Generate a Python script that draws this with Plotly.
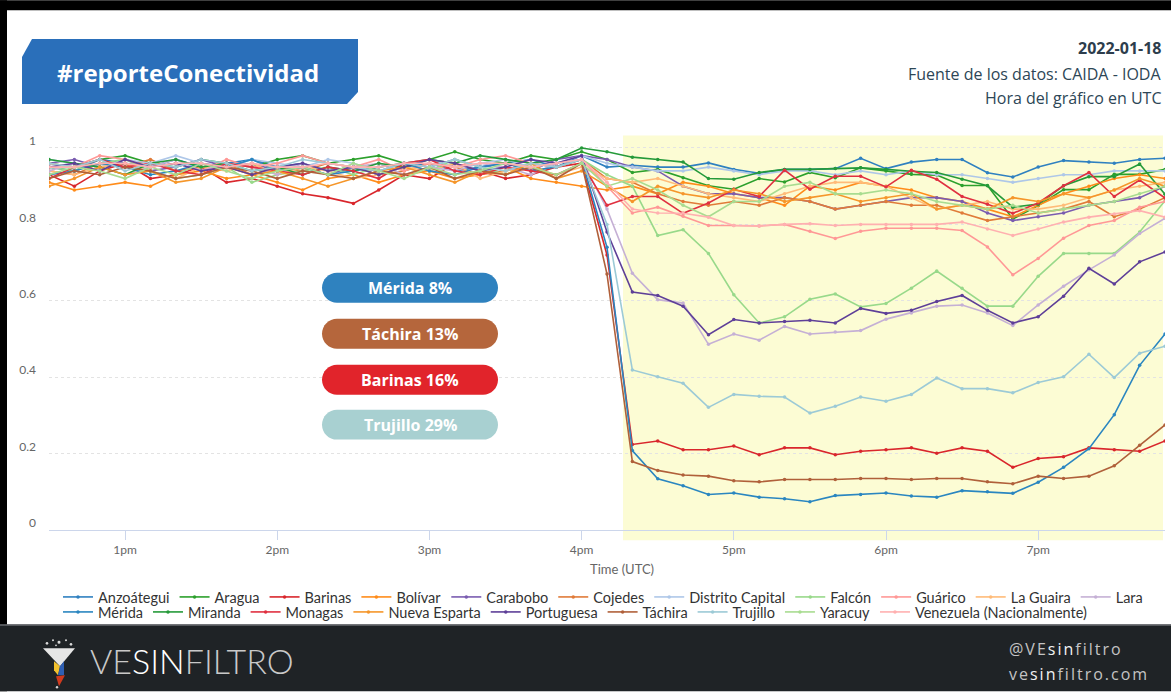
import plotly.graph_objects as go
import pandas as pd

# ---------------- data ----------------
times = pd.date_range("2022-01-18 12:30", "2022-01-18 19:50", freq="10min")

anzoategui = [0.95,0.94,0.97,0.96,0.95,0.97,0.95,0.96,0.97,0.95,0.96,0.94,0.95,0.93,0.95,0.96,0.94,0.95,0.96,0.97,0.95,0.98,
              0.95,
              0.955,0.95,0.95,0.961,0.944,0.934,0.944,0.944,0.946,0.973,0.946,0.963,0.97,0.97,0.935,0.924,0.95,0.967,0.963,0.96,0.97,0.973]
aragua = [0.96,0.95,0.97,0.98,0.96,0.95,0.97,0.96,0.95,0.97,0.98,0.96,0.97,0.98,0.96,0.97,0.99,0.97,0.96,0.98,0.97,0.99,
          0.97,
          0.936,0.944,0.922,0.901,0.892,0.920,0.911,0.936,0.922,0.948,0.940,0.931,0.929,0.902,0.902,0.814,0.849,0.891,0.891,0.931,0.931,0.944]
barinas = [0.93,0.90,0.94,0.96,0.92,0.93,0.95,0.91,0.92,0.90,0.88,0.87,0.855,0.89,0.93,0.92,0.96,0.94,0.92,0.93,0.95,0.96,
           0.72,
           0.224,0.233,0.210,0.210,0.220,0.197,0.215,0.215,0.197,0.206,0.210,0.215,0.201,0.215,0.206,0.164,0.187,0.192,0.215,0.210,0.206,0.233]
bolivar = [0.91,0.89,0.90,0.91,0.90,0.93,0.94,0.92,0.93,0.91,0.89,0.92,0.93,0.91,0.93,0.94,0.92,0.93,0.95,0.92,0.91,0.90,
           0.89,
           0.90,0.88,0.91,0.90,0.88,0.87,0.85,0.90,0.89,0.91,0.90,0.89,0.87,0.86,0.84,0.82,0.85,0.88,0.90,0.92,0.93,0.92]
carabobo = [0.96,0.97,0.95,0.96,0.94,0.95,0.97,0.95,0.96,0.94,0.95,0.93,0.95,0.94,0.96,0.95,0.97,0.95,0.96,0.94,0.97,0.98,
            0.97,
            0.95,0.94,0.90,0.88,0.88,0.87,0.87,0.86,0.84,0.85,0.86,0.87,0.87,0.86,0.83,0.81,0.82,0.83,0.85,0.86,0.87,0.90]
cojedes = [0.94,0.93,0.96,0.95,0.97,0.94,0.95,0.96,0.93,0.95,0.94,0.96,0.95,0.93,0.94,0.96,0.95,0.93,0.94,0.96,0.95,0.97,
           0.92,
           0.91,0.88,0.86,0.85,0.86,0.85,0.87,0.86,0.84,0.85,0.86,0.85,0.85,0.83,0.81,0.82,0.83,0.84,0.86,0.82,0.84,0.87]
distrito_capital = [0.97,0.96,0.95,0.97,0.96,0.98,0.96,0.95,0.97,0.96,0.95,0.97,0.96,0.94,0.96,0.97,0.95,0.96,0.97,0.95,0.96,0.98,
                    0.96,
                    0.95,0.94,0.94,0.95,0.94,0.93,0.94,0.94,0.93,0.94,0.93,0.94,0.93,0.93,0.92,0.91,0.92,0.93,0.93,0.94,0.94,0.94]
falcon = [0.95,0.94,0.96,0.97,0.94,0.92,0.93,0.95,0.91,0.93,0.94,0.95,0.93,0.95,0.96,0.94,0.97,0.95,0.93,0.96,0.95,0.97,
          0.93,
          0.90,0.771,0.786,0.724,0.616,0.542,0.558,0.604,0.618,0.584,0.593,0.633,0.678,0.633,0.586,0.586,0.664,0.724,0.724,0.724,0.780,0.862]
guarico = [0.96,0.95,0.98,0.97,0.95,0.96,0.94,0.97,0.95,0.96,0.98,0.96,0.95,0.97,0.94,0.96,0.95,0.97,0.98,0.96,0.95,0.97,
           0.90,
           0.83,0.845,0.821,0.797,0.797,0.796,0.80,0.782,0.763,0.782,0.79,0.79,0.79,0.784,0.741,0.668,0.711,0.764,0.797,0.81,0.845,0.86]
la_guaira = [0.94,0.93,0.95,0.96,0.94,0.92,0.95,0.94,0.96,0.93,0.95,0.94,0.92,0.93,0.95,0.94,0.96,0.92,0.94,0.95,0.93,0.95,
             0.92,
             0.91,0.92,0.90,0.88,0.87,0.86,0.88,0.90,0.91,0.91,0.90,0.87,0.84,0.85,0.86,0.84,0.84,0.85,0.87,0.89,0.90,0.91]
lara = [0.94,0.96,0.95,0.93,0.95,0.97,0.94,0.96,0.95,0.93,0.96,0.94,0.95,0.96,0.93,0.95,0.94,0.96,0.95,0.93,0.96,0.97,
        0.84,
        0.672,0.603,0.594,0.486,0.513,0.497,0.533,0.513,0.518,0.522,0.552,0.568,0.586,0.589,0.568,0.535,0.589,0.638,0.681,0.72,0.776,0.816]
merida = [0.93,0.94,0.96,0.95,0.93,0.94,0.96,0.95,0.97,0.94,0.95,0.93,0.94,0.95,0.96,0.94,0.93,0.95,0.96,0.94,0.95,0.97,
          0.74,
          0.208,0.134,0.116,0.093,0.097,0.086,0.082,0.074,0.090,0.093,0.097,0.089,0.086,0.103,0.100,0.096,0.125,0.164,0.213,0.302,0.431,0.513]
miranda = [0.97,0.96,0.95,0.93,0.96,0.97,0.95,0.96,0.94,0.95,0.93,0.95,0.94,0.96,0.95,0.97,0.96,0.98,0.97,0.96,0.97,1.00,
           0.99,
           0.976,0.970,0.963,0.920,0.918,0.936,0.944,0.944,0.946,0.948,0.944,0.939,0.936,0.918,0.901,0.845,0.853,0.901,0.925,0.925,0.958,0.879]
monagas = [0.92,0.95,0.97,0.95,0.96,0.94,0.93,0.96,0.95,0.94,0.93,0.95,0.94,0.92,0.96,0.97,0.94,0.93,0.95,0.94,0.93,0.96,
           0.85,
           0.873,0.873,0.829,0.856,0.892,0.873,0.942,0.892,0.926,0.926,0.898,0.942,0.918,0.873,0.853,0.829,0.856,0.901,0.936,0.873,0.916,0.869]
nueva_esparta = [0.90,0.92,0.95,0.93,0.94,0.91,0.92,0.95,0.93,0.94,0.92,0.90,0.92,0.94,0.95,0.93,0.91,0.94,0.93,0.96,0.92,0.94,
                 0.90,
                 0.86,0.90,0.88,0.87,0.89,0.88,0.86,0.87,0.88,0.86,0.87,0.88,0.84,0.85,0.84,0.87,0.86,0.88,0.87,0.89,0.92,0.90]
portuguesa = [0.95,0.96,0.94,0.97,0.95,0.96,0.94,0.95,0.93,0.95,0.96,0.94,0.95,0.93,0.95,0.97,0.96,0.94,0.95,0.97,0.96,0.98,
              0.78,
              0.623,0.614,0.586,0.511,0.551,0.542,0.546,0.549,0.542,0.58,0.567,0.575,0.598,0.614,0.575,0.542,0.558,0.612,0.685,0.644,0.702,0.728]
tachira = [0.92,0.94,0.93,0.95,0.94,0.92,0.93,0.95,0.94,0.92,0.94,0.93,0.92,0.94,0.93,0.95,0.92,0.94,0.93,0.95,0.92,0.96,
           0.67,
           0.179,0.156,0.144,0.141,0.129,0.126,0.132,0.132,0.132,0.135,0.135,0.132,0.135,0.135,0.126,0.121,0.141,0.135,0.141,0.168,0.222,0.275]
trujillo = [0.96,0.95,0.97,0.94,0.96,0.95,0.97,0.96,0.94,0.95,0.97,0.96,0.95,0.94,0.96,0.95,0.97,0.95,0.94,0.96,0.95,0.97,
            0.80,
            0.419,0.401,0.384,0.321,0.355,0.350,0.348,0.306,0.324,0.348,0.337,0.355,0.398,0.370,0.370,0.359,0.386,0.401,0.460,0.399,0.463,0.481]
yaracuy = [0.93,0.95,0.94,0.92,0.95,0.93,0.96,0.94,0.92,0.94,0.95,0.93,0.96,0.94,0.92,0.95,0.93,0.94,0.96,0.95,0.93,0.96,
           0.90,
           0.92,0.89,0.85,0.82,0.86,0.86,0.90,0.91,0.88,0.88,0.89,0.88,0.86,0.85,0.84,0.85,0.83,0.84,0.85,0.86,0.88,0.90]
venezuela = [0.95,0.95,0.96,0.96,0.95,0.96,0.96,0.95,0.96,0.95,0.95,0.96,0.95,0.95,0.96,0.96,0.95,0.96,0.96,0.95,0.96,0.97,
             0.91,
             0.84,0.83,0.829,0.819,0.797,0.796,0.80,0.802,0.797,0.80,0.80,0.80,0.80,0.806,0.788,0.771,0.788,0.806,0.819,0.827,0.836,0.819]

x_tick_vals = ["2022-01-18 13:00", "2022-01-18 14:00", "2022-01-18 15:00", "2022-01-18 16:00",
               "2022-01-18 17:00", "2022-01-18 18:00", "2022-01-18 19:00"]
x_tick_text = ["1pm", "2pm", "3pm", "4pm", "5pm", "6pm", "7pm"]
y_tick_vals = [0, 0.2, 0.4, 0.6, 0.8, 1]
y_tick_text = ["0", "0.2", "0.4", "0.6", "0.8", "1"]

pill_labels = ["Mérida 8%", "Táchira 13%", "Barinas 16%", "Trujillo 29%"]

# name, values, color, legend row
series = [
    ("Anzoátegui", anzoategui, "#2f80c0", "legend"),
    ("Aragua", aragua, "#2ca02c", "legend"),
    ("Barinas", barinas, "#d9262c", "legend"),
    ("Bolívar", bolivar, "#ff8c1a", "legend"),
    ("Carabobo", carabobo, "#7a5cb0", "legend"),
    ("Cojedes", cojedes, "#e07b39", "legend"),
    ("Distrito Capital", distrito_capital, "#aec7e8", "legend"),
    ("Falcón", falcon, "#98d98a", "legend"),
    ("Guárico", guarico, "#ff9896", "legend"),
    ("La Guaira", la_guaira, "#ffbb78", "legend"),
    ("Lara", lara, "#c5b0d5", "legend"),
    ("Mérida", merida, "#2a86c0", "legend2"),
    ("Miranda", miranda, "#259a3a", "legend2"),
    ("Monagas", monagas, "#e03040", "legend2"),
    ("Nueva Esparta", nueva_esparta, "#f5962a", "legend2"),
    ("Portuguesa", portuguesa, "#5e3f98", "legend2"),
    ("Táchira", tachira, "#b0603a", "legend2"),
    ("Trujillo", trujillo, "#9ccad6", "legend2"),
    ("Yaracuy", yaracuy, "#a8dc90", "legend2"),
    ("Venezuela (Nacionalmente)", venezuela, "#ffb0b0", "legend2"),
]
pill_colors = ["#2f82bf", "#b5663c", "#e1242b", "#a8d0d1"]

# ---------------- geometry helpers (pixels -> paper) ----------------
W, H = 1171, 692
L, R, T, B = 49, 1165, 135, 530.5


def px(x):
    return (x - L) / (R - L)


def py(y):
    return (B - y) / (B - T)


def path_px(points):
    s = "M {} {}".format(px(points[0][0]), py(points[0][1]))
    for p in points[1:]:
        s += " L {} {}".format(px(p[0]), py(p[1]))
    return s + " Z"


def pill_path(x0, y0, x1, y1):
    r = (y1 - y0) / 2
    k = 0.5523 * r
    s = "M {} {}".format(px(x0 + r), py(y0))
    s += " L {} {}".format(px(x1 - r), py(y0))
    s += " C {} {} {} {} {} {}".format(px(x1 - r + k), py(y0), px(x1), py(y0 + r - k), px(x1), py(y0 + r))
    s += " C {} {} {} {} {} {}".format(px(x1), py(y0 + r + k), px(x1 - r + k), py(y1), px(x1 - r), py(y1))
    s += " L {} {}".format(px(x0 + r), py(y1))
    s += " C {} {} {} {} {} {}".format(px(x0 + r - k), py(y1), px(x0), py(y1 - r + k), px(x0), py(y1 - r))
    s += " C {} {} {} {} {} {}".format(px(x0), py(y0 + r - k), px(x0 + r - k), py(y0), px(x0 + r), py(y0))
    return s + " Z"


fig = go.Figure()

for name, vals, color, leg in series:
    fig.add_trace(go.Scatter(
        x=times, y=vals, name=name, mode="lines+markers",
        line=dict(color=color, width=1.6),
        marker=dict(color=color, size=3.5),
        legend=leg,
    ))

shapes = []
# yellow highlight band
shapes.append(dict(type="rect", xref="paper", yref="paper",
                   x0=px(623), x1=px(1163), y0=py(540.7), y1=py(135.6),
                   fillcolor="#fcfcd4", line=dict(width=0), layer="below"))
# black frame top / left
shapes.append(dict(type="rect", xref="paper", yref="paper",
                   x0=px(0), x1=px(W), y0=py(10), y1=py(0),
                   fillcolor="#000000", line=dict(width=0), layer="above"))
shapes.append(dict(type="rect", xref="paper", yref="paper",
                   x0=px(0), x1=px(7), y0=py(H), y1=py(0),
                   fillcolor="#000000", line=dict(width=0), layer="above"))
# footer
shapes.append(dict(type="rect", xref="paper", yref="paper",
                   x0=px(0), x1=px(W), y0=py(H), y1=py(625),
                   fillcolor="#1f2326", line=dict(width=0), layer="above"))
shapes.append(dict(type="line", xref="paper", yref="paper",
                   x0=px(0), x1=px(W), y0=py(625.5), y1=py(625.5),
                   line=dict(color="#6a6d70", width=1.5), layer="above"))
# header box
shapes.append(dict(type="path", xref="paper", yref="paper",
                   path=path_px([(22, 57), (32, 39), (358, 39), (358, 92), (347, 104), (22, 104)]),
                   fillcolor="#2a6fba", line=dict(width=0), layer="above"))
# pills
pill_rows = [(273, 303), (319, 349), (365, 395), (410, 440)]
for (y0, y1), c in zip(pill_rows, pill_colors):
    shapes.append(dict(type="path", xref="paper", yref="paper",
                       path=pill_path(322, y0, 498, y1),
                       fillcolor=c, line=dict(width=0), layer="above"))
# logo funnel
shapes.append(dict(type="path", xref="paper", yref="paper",
                   path=path_px([(43, 649), (75, 649), (60, 667)]),
                   fillcolor="#e6e6e6", line=dict(width=0), layer="above"))
shapes.append(dict(type="path", xref="paper", yref="paper",
                   path=path_px([(54, 662), (60, 667), (58, 676), (54, 671)]),
                   fillcolor="#f2c12e", line=dict(width=0), layer="above"))
shapes.append(dict(type="path", xref="paper", yref="paper",
                   path=path_px([(60, 667), (64, 662), (64, 676), (58, 676)]),
                   fillcolor="#2f5fb3", line=dict(width=0), layer="above"))
shapes.append(dict(type="path", xref="paper", yref="paper",
                   path=path_px([(56, 677), (65, 676), (59, 687)]),
                   fillcolor="#d03a1e", line=dict(width=0), layer="above"))
for (cx, cy, r) in [(47, 644, 1.3), (53, 641, 1.0), (59, 643, 1.5), (66, 641, 1.0), (71, 645, 1.3), (56, 646, 0.9), (57, 688, 1.2)]:
    shapes.append(dict(type="circle", xref="paper", yref="paper",
                       x0=px(cx - r), x1=px(cx + r), y0=py(cy + r), y1=py(cy - r),
                       fillcolor="#d8d8d8", line=dict(width=0), layer="above"))

annotations = []


def ann(text, x, y, size, color, family="Open Sans", xanchor="center", weight=None):
    f = dict(size=size, color=color, family=family)
    if weight is not None:
        f["weight"] = weight
    annotations.append(dict(text=text, xref="paper", yref="paper", x=px(x), y=py(y),
                            xanchor=xanchor, yanchor="middle", showarrow=False, font=f))


ann("<b>#reporteConectividad</b>", 188, 72, 24, "#ffffff")
ann("<b>2022-01-18</b>", 1163, 48, 16, "#2d3d4c", xanchor="right")
ann("Fuente de los datos: CAIDA - IODA", 1163, 74, 16, "#2d4656", xanchor="right")
ann("Hora del gráfico en UTC", 1163, 98, 16, "#2d4656", xanchor="right")
for (y0, y1), lab in zip(pill_rows, pill_labels):
    ann("<b>" + lab + "</b>", 410, (y0 + y1) / 2, 16, "#ffffff")
ann("Time (UTC)", 622, 570, 13, "#666666", family="Lato")
ann("<span style='color:#c9c9c9'>VE</span><span style='color:#ffffff'>SIN</span><span style='color:#c9c9c9'>FILTRO</span>",
    88, 661, 34, "#c9c9c9", family="Lato", xanchor="left", weight=300)
ann("<span style='letter-spacing:2px'>@VE<span style='color:#f2f2f2'>sin</span>filtro</span>",
    1007, 650, 16, "#c4c4c4", xanchor="left")
ann("<span style='letter-spacing:2px'>ve<span style='color:#f2f2f2'>sin</span>filtro.com</span>",
    1007, 675, 16, "#c4c4c4", xanchor="left")

legend_common = dict(orientation="h", xref="container", yref="container",
                     xanchor="left", yanchor="middle", bgcolor="rgba(0,0,0,0)",
                     font=dict(family="Lato", size=14.5, color="#333333"),
                     itemwidth=30, borderwidth=0)

fig.update_layout(
    width=W, height=H,
    margin=dict(l=L, r=W - R, t=T, b=H - B),
    paper_bgcolor="#ffffff", plot_bgcolor="#ffffff",
    showlegend=True,
    legend=dict(x=58 / W, y=1 - 597 / H, **legend_common),
    legend2=dict(x=58 / W, y=1 - 612 / H, **legend_common),
    xaxis=dict(type="date", range=["2022-01-18 12:30", "2022-01-18 19:50"],
               tickvals=x_tick_vals, ticktext=x_tick_text,
               showgrid=False, showline=True, linecolor="#ccd6eb", linewidth=1,
               ticks="outside", ticklen=9, tickcolor="#ccd6eb",
               tickfont=dict(family="Lato", size=12, color="#666666"),
               zeroline=False),
    yaxis=dict(range=[0, 1.034], tickvals=y_tick_vals, ticktext=y_tick_text,
               showgrid=True, gridcolor="#e3e3e3", griddash="dot", gridwidth=1,
               zeroline=False, showline=False, ticks="",
               ticklabelstandoff=12, ticklabelshift=-7,
               tickfont=dict(family="Lato", size=12, color="#666666")),
    shapes=shapes,
    annotations=annotations,
    hovermode=False,
)

fig.write_html(
    "out.html",
    config={"displayModeBar": False},
    post_script="document.body.style.margin='0';document.body.style.overflow='hidden';"
                "document.documentElement.style.overflow='hidden';",
)
